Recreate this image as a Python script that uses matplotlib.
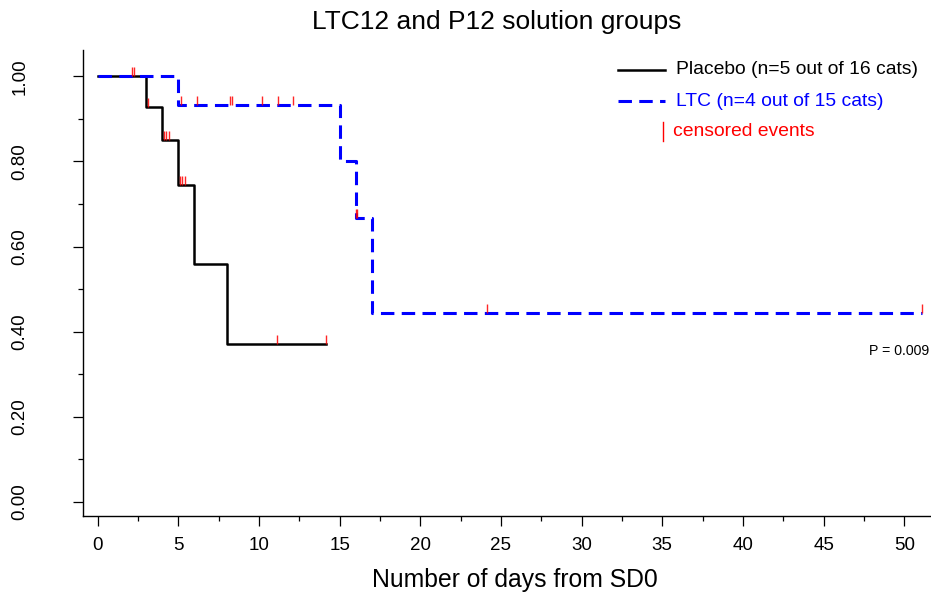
import numpy as np
import matplotlib
matplotlib.use("Agg")
import matplotlib.pyplot as plt
from matplotlib.lines import Line2D
from matplotlib.ticker import MultipleLocator, FormatStrFormatter

plt.rcParams['font.family'] = ['Liberation Sans', 'DejaVu Sans']

# Kaplan-Meier steps: time of each drop and survival after it
placebo_times = [0, 3, 4, 5, 6, 8]
placebo_surv = [1.0, 0.929, 0.851, 0.745, 0.559, 0.372]
placebo_last = 14.13
placebo_censored = [2.15, 2.27, 3.14, 4.11, 4.23, 4.40, 5.10, 5.25, 5.43, 11.13, 14.13]

ltc_times = [0, 5, 15, 16, 17]
ltc_surv = [1.0, 0.933, 0.800, 0.667, 0.444]
ltc_last = 51.1
ltc_censored = [5.14, 6.18, 8.18, 8.31, 10.17, 11.16, 12.13, 16.0, 16.05, 24.15, 51.1]

legend_labels = ["Placebo (n=5 out of 16 cats)", "LTC (n=4 out of 15 cats)", "censored events"]
p_value = "P = 0.009"

W, H = 931, 593
fig = plt.figure(figsize=(W / 100, H / 100), dpi=100)
ax = fig.add_axes([82.7 / W, (H - 516) / H, (W - 82.7) / W, (516 - 50) / H])


def surv_at(times, surv, t):
    i = np.searchsorted(times, t, side='right') - 1
    return surv[i]


def km_curve(times, surv, last, censored, **kw):
    xs = list(times) + [last]
    ys = list(surv) + [surv[-1]]
    ax.step(xs, ys, where='post', **kw)
    cy = [surv_at(times, surv, t) for t in censored]
    ax.vlines(censored, cy, np.array(cy) + 0.021, color='red', lw=1.0, alpha=0.85, zorder=4)


km_curve(placebo_times, placebo_surv, placebo_last, placebo_censored,
         color='black', lw=1.8, zorder=3)
km_curve(ltc_times, ltc_surv, ltc_last, ltc_censored,
         color='#0000ff', lw=2.2, dashes=(4.4, 2.4), zorder=3)

ax.set_xlim(-0.93, 51.66)
ax.set_ylim(-0.033, 1.062)

for s in ['top', 'right']:
    ax.spines[s].set_visible(False)
for s in ['left', 'bottom']:
    ax.spines[s].set_linewidth(1.0)

ax.set_xticks(np.arange(0, 51, 5))
ax.xaxis.set_minor_locator(MultipleLocator(2.5))
ax.yaxis.set_major_locator(MultipleLocator(0.2))
ax.yaxis.set_minor_locator(MultipleLocator(0.1))
ax.yaxis.set_major_formatter(FormatStrFormatter('%.2f'))
ax.tick_params(which='major', length=7, width=0.9, labelsize=13.5)
ax.tick_params(which='minor', length=3.8, width=0.9)
ax.tick_params(axis='x', which='major', pad=8)
ax.tick_params(axis='y', which='major', pad=32)
for lbl in ax.get_yticklabels():
    lbl.set_rotation(90)
    lbl.set_va('center')


# helpers for placing text in figure pixels
def fx(x):
    return x / W


def fy(y):
    return 1 - y / H


fig.text(fx(515), fy(587), "Number of days from SD0", fontsize=17.8,
         ha='center', va='baseline')
fig.text(fx(497), fy(22), "LTC12 and P12 solution groups",
         fontsize=19, ha='center', va='center')

# legend drawn by hand
fig.add_artist(Line2D([fx(618), fx(665)], [fy(70), fy(70)], color='black', lw=1.8,
                      transform=fig.transFigure))
fig.add_artist(Line2D([fx(618), fx(665)], [fy(101), fy(101)], color='#0000ff', lw=2.2,
                      dashes=(4.4, 2.4), transform=fig.transFigure))
fig.add_artist(Line2D([fx(663), fx(663)], [fy(122), fy(141)], color='red', lw=1.0,
                      transform=fig.transFigure))
for y, lab, col in zip([70, 101, 131], legend_labels, ['black', '#0000ff', 'red']):
    x0 = 673 if col == 'red' else 676
    fig.text(fx(x0), fy(y), lab, color=col, fontsize=13.9, ha='left', va='center')

fig.text(fx(929), fy(351), p_value, fontsize=10.2, ha='right', va='center')

fig.savefig("out.png", dpi=100)
